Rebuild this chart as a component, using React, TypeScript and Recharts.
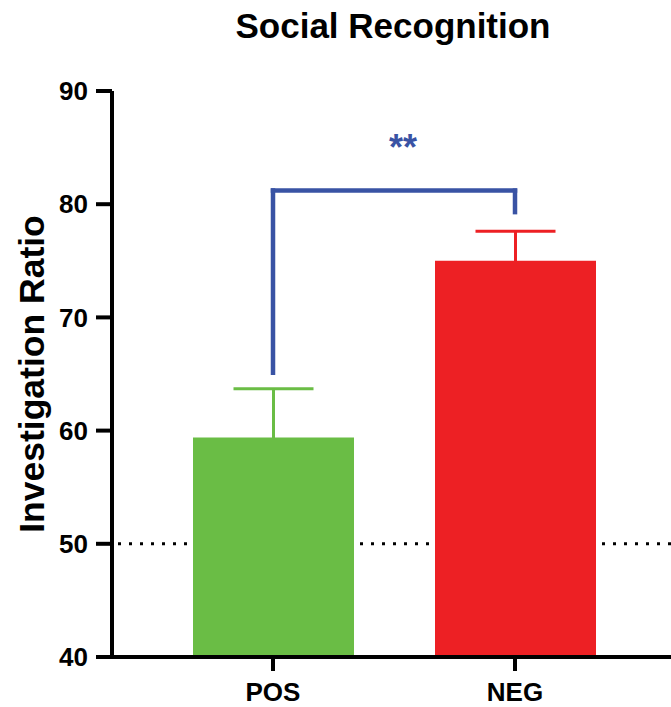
import { BarChart, Bar, XAxis, YAxis, ErrorBar, ReferenceLine } from 'recharts'

const categories = ['POS', 'NEG']
const posMean = [59.4, null]
const posSem = [4.3, null]
const negMean = [null, 75.0]
const negSem = [null, 2.6]
const yTicks = [40, 50, 60, 70, 80, 90]
const chanceLevel = 50
// bracket: left leg bottom, top bar, right leg bottom
const bracketLevels = [65.1, 81.2, 79.3]
const starsLevel = 85.0

const font = '"Liberation Sans", Arial, Helvetica, sans-serif'
const GREEN = '#6abd45'
const RED = '#ed2024'
const BLUE = '#3953a4'

const data = categories.map((name, i) => ({
  name,
  pos: posMean[i],
  posErr: posSem[i],
  neg: negMean[i],
  negErr: negSem[i],
}))

function YTitle({ viewBox }: any) {
  const x = viewBox.x + 44
  const y = viewBox.y + viewBox.height / 2
  return (
    <text
      x={x}
      y={y}
      transform={`rotate(-90 ${x} ${y})`}
      textAnchor="middle"
      fontFamily={font}
      fontSize={35.5}
      fontWeight={700}
      fill="#000"
    >
      Investigation Ratio
    </text>
  )
}

const tickStyle = { fontFamily: font, fontSize: 26, fontWeight: 700, fill: '#000' }

export default function App() {
  return (
    <div style={{ position: 'fixed', left: 0, top: 0, width: 671, height: 707, background: '#fff' }}>
      <div
        style={{
          position: 'absolute',
          left: 193,
          top: 8,
          width: 400,
          textAlign: 'center',
          fontFamily: font,
          fontSize: 35,
          fontWeight: 700,
          lineHeight: 1,
          color: '#000',
        }}
      >
        Social Recognition
      </div>
      <BarChart
        width={671}
        height={707}
        data={data}
        margin={{ top: 91, right: 0, bottom: 0, left: 0 }}
        barSize={161}
        barGap={-161}
      >
        <XAxis
          dataKey="name"
          height={50}
          padding={{ left: 40, right: 35 }}
          axisLine={{ stroke: '#000', strokeWidth: 4 }}
          tickLine={{ stroke: '#000', strokeWidth: 4 }}
          tickSize={14}
          tickMargin={12}
          tick={tickStyle}
          interval={0}
        />
        <YAxis
          width={112}
          domain={[40, 90]}
          ticks={yTicks}
          allowDataOverflow
          axisLine={{ stroke: '#000', strokeWidth: 4 }}
          tickLine={{ stroke: '#000', strokeWidth: 4 }}
          tickSize={16}
          tickMargin={8}
          tick={tickStyle}
          label={<YTitle />}
        />
        {/* chance line sits behind the bars */}
        <ReferenceLine
          y={chanceLevel}
          stroke="#000"
          strokeWidth={3}
          strokeDasharray="3 8"
          strokeDashoffset={-6}
          zIndex={-10}
        />
        <Bar dataKey="pos" fill={GREEN} isAnimationActive={false}>
          <ErrorBar dataKey="posErr" width={40} stroke={GREEN} strokeWidth={3} isAnimationActive={false} zIndex={-5} />
        </Bar>
        <Bar dataKey="neg" fill={RED} isAnimationActive={false}>
          <ErrorBar dataKey="negErr" width={40} stroke={RED} strokeWidth={3} isAnimationActive={false} zIndex={-5} />
        </Bar>
        <ReferenceLine
          segment={[{ x: 'POS', y: bracketLevels[0] }, { x: 'POS', y: bracketLevels[1] }]}
          stroke={BLUE}
          strokeWidth={4.5}
          strokeLinecap="square"
        />
        <ReferenceLine
          segment={[{ x: 'POS', y: bracketLevels[1] }, { x: 'NEG', y: bracketLevels[1] }]}
          stroke={BLUE}
          strokeWidth={4.5}
          strokeLinecap="square"
        />
        <ReferenceLine
          segment={[{ x: 'NEG', y: bracketLevels[2] }, { x: 'NEG', y: bracketLevels[1] }]}
          stroke={BLUE}
          strokeWidth={4.5}
          strokeLinecap="square"
        />
        <ReferenceLine
          segment={[{ x: 'POS', y: starsLevel }, { x: 'NEG', y: starsLevel }]}
          stroke="none"
          label={{
            value: '**',
            position: 'center',
            fill: BLUE,
            fontSize: 36,
            fontWeight: 700,
            fontFamily: font,
            dx: 9,
          }}
        />
      </BarChart>
    </div>
  )
}
